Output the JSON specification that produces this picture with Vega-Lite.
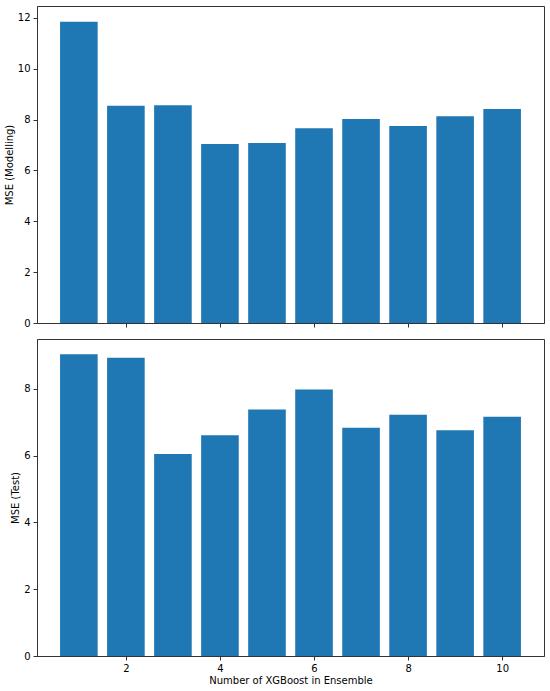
{
  "$schema": "https://vega.github.io/schema/vega-lite/v6.json",
  "padding": {"top": 5, "left": 3, "right": 4, "bottom": 3},
  "background": "white",
  "config": {
    "font": "DejaVu Sans",
    "view": {"stroke": "#333", "strokeWidth": 1},
    "axis": {
      "grid": false,
      "labelFont": "DejaVu Sans",
      "labelFontSize": 10,
      "labelColor": "#000",
      "titleFont": "DejaVu Sans",
      "titleFontSize": 10,
      "titleFontWeight": "normal",
      "titleColor": "#000",
      "domainColor": "#333",
      "tickColor": "#333",
      "tickSize": 4,
      "labelPadding": 3
    },
    "concat": {"spacing": 16}
  },
  "data": {
    "values": [
      {"n": 1, "modelling": 11.85, "test": 9.03},
      {"n": 2, "modelling": 8.55, "test": 8.93},
      {"n": 3, "modelling": 8.57, "test": 6.05},
      {"n": 4, "modelling": 7.04, "test": 6.61},
      {"n": 5, "modelling": 7.08, "test": 7.38},
      {"n": 6, "modelling": 7.66, "test": 7.98},
      {"n": 7, "modelling": 8.02, "test": 6.83},
      {"n": 8, "modelling": 7.75, "test": 7.22},
      {"n": 9, "modelling": 8.13, "test": 6.76},
      {"n": 10, "modelling": 8.42, "test": 7.16}
    ]
  },
  "bounds": "flush",
  "vconcat": [
    {
      "width": 507,
      "height": 317,
      "mark": {"type": "bar", "width": 37.6, "color": "#1f77b4"},
      "encoding": {
        "x": {
          "field": "n",
          "type": "quantitative",
          "scale": {"domain": [0.11, 10.89], "nice": false, "zero": false, "padding": 0},
          "axis": {"values": [2, 4, 6, 8, 10], "labels": false, "title": null}
        },
        "y": {
          "field": "modelling",
          "type": "quantitative",
          "scale": {"domain": [0, 12.47], "nice": false},
          "axis": {"values": [0, 2, 4, 6, 8, 10, 12], "title": "MSE (Modelling)", "titlePadding": 3}
        }
      }
    },
    {
      "width": 507,
      "height": 317,
      "mark": {"type": "bar", "width": 37.6, "color": "#1f77b4"},
      "encoding": {
        "x": {
          "field": "n",
          "type": "quantitative",
          "scale": {"domain": [0.11, 10.89], "nice": false, "zero": false, "padding": 0},
          "axis": {"values": [2, 4, 6, 8, 10], "title": "Number of XGBoost in Ensemble", "titlePadding": 2}
        },
        "y": {
          "field": "test",
          "type": "quantitative",
          "scale": {"domain": [0, 9.49], "nice": false},
          "axis": {"values": [0, 2, 4, 6, 8], "title": "MSE (Test)", "titlePadding": 3}
        }
      }
    }
  ]
}
